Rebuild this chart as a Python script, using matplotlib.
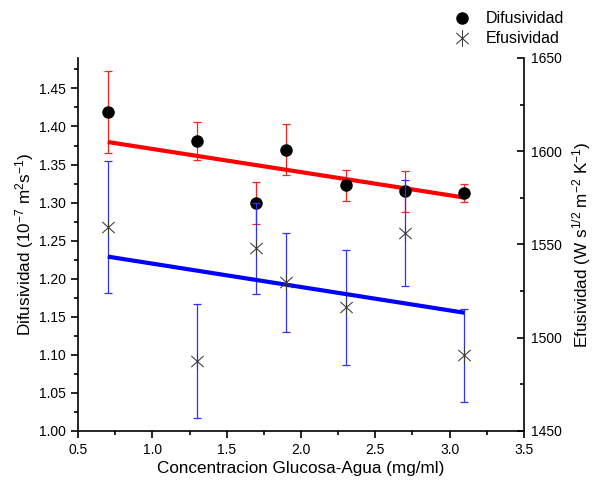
import matplotlib as mpl
import matplotlib.pyplot as plt
import numpy as np
from matplotlib.path import Path
from matplotlib.lines import Line2D
from matplotlib.ticker import MultipleLocator, FormatStrFormatter

# fuente tipo Arial
mpl.rcParams.update({
    "font.family": "Liberation Sans",
    "font.size": 10,
    "mathtext.fontset": "custom",
    "mathtext.rm": "Liberation Sans",
    "mathtext.it": "Liberation Sans",
    "axes.unicode_minus": False,
})

# datos
conc = [0.7, 1.3, 1.7, 1.9, 2.3, 2.7, 3.1]
difusividad = [1.419, 1.381, 1.2995, 1.3696, 1.3227, 1.315, 1.313]
dif_err = [0.054, 0.025, 0.027, 0.033, 0.020, 0.027, 0.012]
efusividad = [1559.2, 1487.7, 1548.0, 1529.7, 1516.3, 1556.2, 1490.6]
efu_err = [35.3, 30.6, 24.5, 26.5, 31.0, 28.5, 25.0]

# rectas de ajuste (extremos)
fit_x = [0.7, 3.1]
dif_fit = [1.3796, 1.3066]
efu_fit = [1543.5, 1513.4]

# marcador asterisco (vertical + dos diagonales)
ang = np.deg2rad(42)
cx, cy = np.cos(ang), np.sin(ang)
star = Path([(0, -1), (0, 1), (-cx, -cy), (cx, cy), (-cx, cy), (cx, -cy)],
            [Path.MOVETO, Path.LINETO] * 3)

fig = plt.figure(figsize=(6.05, 4.87), dpi=100)
ax = fig.add_axes([0.129, 0.115, 0.737, 0.766])
ax2 = ax.twinx()

# Difusividad (eje izquierdo)
ax.errorbar(conc, difusividad, yerr=dif_err, fmt='none', ecolor='#ff2020',
            elinewidth=0.9, capsize=2.6, capthick=0.9, zorder=2)
ax.plot(fit_x, dif_fit, color='red', lw=3, solid_capstyle='butt', zorder=3)
ax.plot(conc, difusividad, 'o', color='black', ms=8, zorder=4)

# Efusividad (eje derecho)
ax2.errorbar(conc, efusividad, yerr=efu_err, fmt='none', ecolor='#3030ff',
             elinewidth=0.9, capsize=2.6, capthick=0.9, zorder=2)
ax2.plot(fit_x, efu_fit, color='blue', lw=3, solid_capstyle='butt', zorder=3)
ax2.plot(conc, efusividad, ls='none', marker=star, ms=12, mec='#3a3a3a',
         mew=0.75, mfc='none', zorder=4)

# ejes
ax.set_xlim(0.5, 3.5)
ax.set_ylim(1.0, 1.49)
ax2.set_ylim(1450, 1650)

ax.xaxis.set_major_locator(MultipleLocator(0.5))
ax.xaxis.set_minor_locator(MultipleLocator(0.25))
ax.xaxis.set_major_formatter(FormatStrFormatter('%.1f'))
ax.yaxis.set_major_locator(MultipleLocator(0.05))
ax.yaxis.set_minor_locator(MultipleLocator(0.025))
ax.yaxis.set_major_formatter(FormatStrFormatter('%.2f'))
ax2.yaxis.set_major_locator(MultipleLocator(50))
ax2.yaxis.set_minor_locator(MultipleLocator(25))

for a in (ax, ax2):
    a.spines['top'].set_visible(False)
    for s in a.spines.values():
        s.set_linewidth(1.2)
ax.spines['right'].set_visible(False)
ax2.spines['left'].set_visible(False)
ax2.spines['bottom'].set_visible(False)

ax.tick_params(which='major', direction='out', length=5, width=1.2, labelsize=10)
ax.tick_params(which='minor', direction='out', length=2.8, width=1.2)
ax2.tick_params(which='major', direction='in', length=5, width=1.2,
                labelsize=10, pad=5)
ax2.tick_params(which='minor', direction='in', length=2.8, width=1.2)

ax.set_xlabel('Concentracion Glucosa-Agua (mg/ml)', fontsize=12.3, labelpad=3)
ax.set_ylabel(r'Difusividad (10$^{-7}$ m$^{2}$s$^{-1}$)', fontsize=12.3, labelpad=2)
ax2.set_ylabel(r'Efusividad (W s$^{1/2}$ m$^{-2}$ K$^{-1}$)', fontsize=12.3, labelpad=6)

# leyenda fuera del area de trazado
handles = [Line2D([], [], ls='none', marker='o', color='black', ms=8),
           Line2D([], [], ls='none', marker=star, ms=12, mec='#3a3a3a',
                  mew=0.75, mfc='none')]
fig.legend(handles, ['Difusividad', 'Efusividad'], loc='upper left',
           bbox_to_anchor=(0.724, 1.006), frameon=False, fontsize=11.5,
           handlelength=1.2, handletextpad=0.9, labelspacing=0.3)

plt.savefig('out.png', dpi=100)
